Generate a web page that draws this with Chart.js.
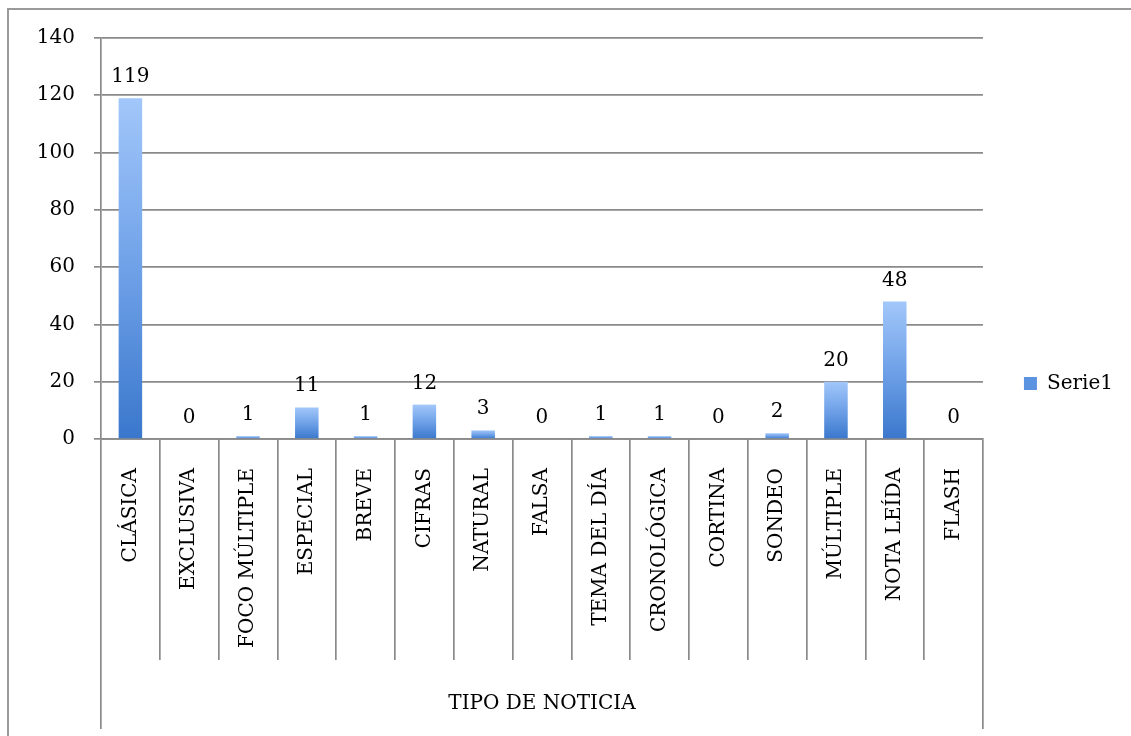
<!DOCTYPE html>
<html>
<head>
<meta charset="utf-8">
<script src="https://cdn.jsdelivr.net/npm/chart.js@4.4.1/dist/chart.umd.min.js"></script>
<style>
  html, body { margin: 0; padding: 0; background: #fff; overflow: hidden; }
  #frame { position: absolute; left: 7px; top: 8px; width: 1200px; height: 800px;
           border-top: 2px solid #9a9a9a; border-left: 2px solid #9a9a9a; }
  #chartBox { position: absolute; left: 0; top: 0; width: 1131px; height: 736px; }
</style>
</head>
<body>
<div id="frame"></div>
<div id="chartBox"><canvas id="tipoChart" width="1131" height="736"></canvas></div>
<script>
// categorias y valores
const tipos = ['CLÁSICA', 'EXCLUSIVA', 'FOCO MÚLTIPLE', 'ESPECIAL', 'BREVE', 'CIFRAS', 'NATURAL',
    'FALSA', 'TEMA DEL DÍA', 'CRONOLÓGICA', 'CORTINA', 'SONDEO', 'MÚLTIPLE', 'NOTA LEÍDA', 'FLASH'];
const serie1 = [119, 0, 1, 11, 1, 12, 3, 0, 1, 1, 0, 2, 20, 48, 0];
const grupo = ['TIPO DE NOTICIA'];
const yTicks = [0, 20, 40, 60, 80, 100, 120, 140];

const serif = '"DejaVu Serif", serif';
const gridGrey = '#8a8a8a';

Chart.defaults.font.family = serif;
Chart.defaults.font.size = 20;
Chart.defaults.color = '#000';

// gradiente por barra: claro arriba, oscuro abajo
function barFill(c) {
    const chart = c.chart;
    if (!chart.chartArea || c.raw === undefined) return '#5b93e0';
    const y = chart.scales.y;
    const top = y.getPixelForValue(c.raw);
    const bottom = y.getPixelForValue(0);
    if (bottom - top < 1) return '#5b93e0';
    const g = chart.ctx.createLinearGradient(0, top, 0, bottom);
    g.addColorStop(0, '#a2c7fa');
    g.addColorStop(0.5, '#6fa1e8');
    g.addColorStop(1, '#3a77cc');
    return g;
}

// etiquetas de valor encima de cada barra
const barLabels = {
    id: 'barLabels',
    afterDatasetsDraw(chart) {
        const ctx = chart.ctx;
        const meta = chart.getDatasetMeta(0);
        ctx.save();
        ctx.font = '20px ' + serif;
        ctx.fillStyle = '#000';
        ctx.textAlign = 'center';
        ctx.textBaseline = 'alphabetic';
        meta.data.forEach(function(bar, i) {
            ctx.fillText(String(serie1[i]), bar.x, bar.y - 16);
        });
        ctx.restore();
    }
};

new Chart(document.getElementById('tipoChart').getContext('2d'), {
    type: 'bar',
    data: {
        labels: tipos,
        datasets: [{
            label: 'Serie1',
            data: serie1,
            backgroundColor: barFill,
            borderWidth: 0,
            barPercentage: 0.4,
            categoryPercentage: 1.0
        }]
    },
    options: {
        responsive: false,
        animation: false,
        devicePixelRatio: 1,
        layout: {
            padding: { left: 37, top: 38, right: 8, bottom: 7 }
        },
        plugins: {
            tooltip: { enabled: false },
            legend: {
                position: 'right',
                labels: {
                    color: '#000',
                    font: { family: serif, size: 20 },
                    boxWidth: 13,
                    boxHeight: 13,
                    padding: 16,
                    generateLabels: function(chart) {
                        return [{
                            text: 'Serie1',
                            fillStyle: '#5b93e0',
                            strokeStyle: '#5b93e0',
                            lineWidth: 0,
                            hidden: false,
                            datasetIndex: 0
                        }];
                    }
                }
            }
        },
        scales: {
            y: {
                min: 0,
                max: 140,
                afterBuildTicks: function(scale) {
                    scale.ticks = yTicks.map(v => ({ value: v }));
                },
                afterFit: function(scale) { scale.width = 64; },
                grid: { color: gridGrey, lineWidth: 1.7, tickLength: 7 },
                border: { color: gridGrey, width: 1.7 },
                ticks: { color: '#000', font: { family: serif, size: 20 }, padding: 19 }
            },
            // eje vacio a la derecha: solo deja hueco entre el grafico y la leyenda
            ySpace: {
                position: 'right',
                min: 0,
                max: 140,
                afterFit: function(scale) { scale.width = 25; },
                grid: { display: false },
                border: { display: false },
                ticks: { display: false }
            },
            x: {
                weight: 0,
                afterFit: function(scale) { scale.height = 221; },
                grid: {
                    offset: true,
                    drawOnChartArea: false,
                    color: gridGrey,
                    lineWidth: 1.7,
                    tickLength: 221
                },
                border: { color: gridGrey, width: 1.7 },
                ticks: {
                    color: '#000',
                    font: { family: serif, size: 20 },
                    autoSkip: false,
                    minRotation: 90,
                    maxRotation: 90,
                    padding: -192
                }
            },
            x2: {
                type: 'category',
                axis: 'x',
                position: 'bottom',
                weight: 1,
                labels: grupo,
                offset: true,
                afterFit: function(scale) { scale.height = 69; },
                grid: {
                    offset: true,
                    drawOnChartArea: false,
                    color: gridGrey,
                    lineWidth: 1.7,
                    tickLength: 69
                },
                border: { display: false },
                ticks: {
                    color: '#000',
                    font: { family: serif, size: 20 },
                    maxRotation: 0,
                    padding: -37
                }
            }
        }
    },
    plugins: [barLabels]
});
</script>
</body>
</html>
